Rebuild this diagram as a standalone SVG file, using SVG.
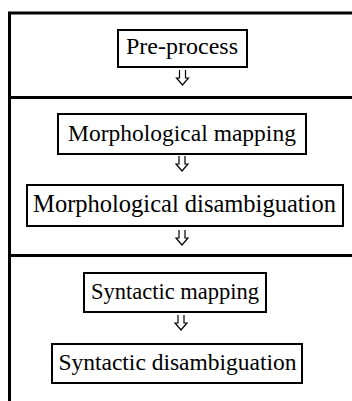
<svg xmlns="http://www.w3.org/2000/svg" width="352" height="401" viewBox="0 0 352 401">
<style>
.frame{stroke:#000;stroke-width:3;fill:none}
.box{fill:#fff;stroke:#000;stroke-width:2}
.lbl{font-family:"Liberation Serif","Times New Roman",serif;font-size:24px;fill:#000;text-anchor:middle}
.arr{fill:none;stroke:#000;stroke-width:1.2;stroke-linejoin:miter}
</style>
<rect width="352" height="401" fill="#fff"/>
<g id="frame">
<path class="frame" d="M8,13 H352 M9.5,12 V401 M9.5,97.5 H352 M9.5,255.5 H352"/>
</g>
<g id="preprocess">
<rect class="box" x="118" y="30" width="129" height="37"/>
<text class="lbl" x="182" y="54">Pre-process</text>
</g>
<g id="morph-mapping">
<rect class="box" x="58" y="114" width="248" height="40"/>
<text class="lbl" x="182" y="141" style="font-size:23.5px">Morphological mapping</text>
</g>
<g id="morph-disamb">
<rect class="box" x="27" y="185" width="316" height="41"/>
<text class="lbl" x="184.5" y="212" style="font-size:24.5px">Morphological disambiguation</text>
</g>
<g id="syn-mapping">
<rect class="box" x="84" y="273" width="182" height="39"/>
<text class="lbl" x="175" y="299" style="font-size:22.5px">Syntactic mapping</text>
</g>
<g id="syn-disamb">
<rect class="box" x="52" y="344" width="250" height="39"/>
<text class="lbl" x="177.5" y="370" style="font-size:23.5px">Syntactic disambiguation</text>
</g>
<g id="connectors">
<path class="arr" d="M179.5,70 V78 H176.5 L182.5,85 L188.5,78 H185.5 V70"/>
<path class="arr" d="M179,156 V164 H176 L182,171 L188,164 H185 V156"/>
<path class="arr" d="M179,230 V238 H176 L182,245 L188,238 H185 V230"/>
<path class="arr" d="M178,315 V323 H175 L181,330 L187,323 H184 V315"/>
</g>
</svg>
